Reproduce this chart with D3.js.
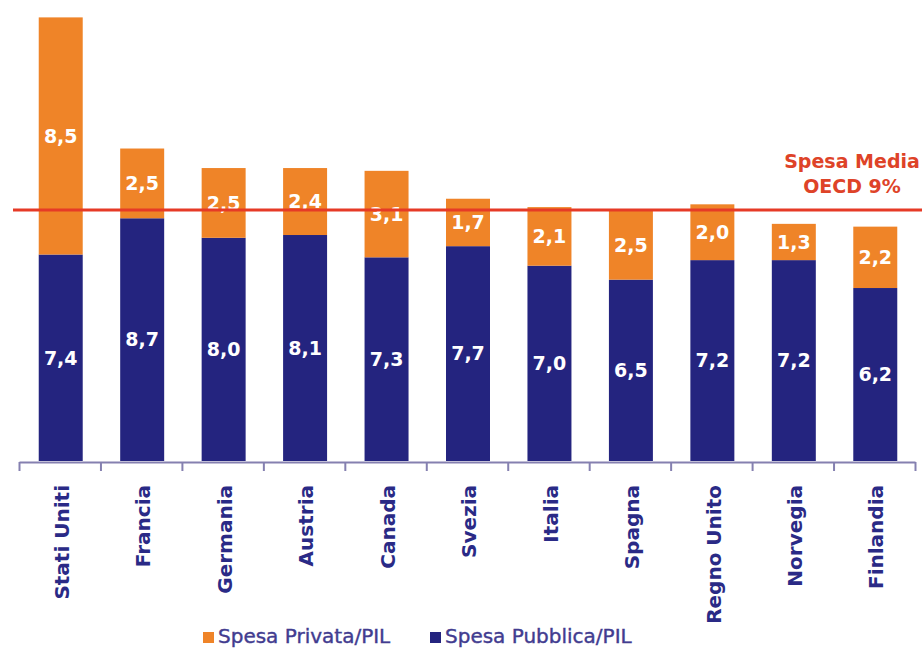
<!DOCTYPE html>
<html>
<head>
<meta charset="utf-8">
<script src="https://cdn.jsdelivr.net/npm/d3@7"></script>
<style>
  html, body { margin: 0; padding: 0; background: #ffffff; }
  svg { display: block; }
</style>
</head>
<body>
<svg id="chart" width="922" height="651"></svg>
<script>
// Health expenditure as % of GDP: public + private, by country
const countries = ["Stati Uniti", "Francia", "Germania", "Austria", "Canada", "Svezia",
                   "Italia", "Spagna", "Regno Unito", "Norvegia", "Finlandia"];
const spesaPubblica = [7.4, 8.7, 8.0, 8.1, 7.3, 7.7, 7.0, 6.5, 7.2, 7.2, 6.2];
const spesaPrivata  = [8.5, 2.5, 2.5, 2.4, 3.1, 1.7, 2.1, 2.5, 2.0, 1.3, 2.2];
const mediaOECD = 9;
const seriesNames = ["Spesa Pubblica/PIL", "Spesa Privata/PIL"];
const legendOrder = ["Spesa Privata/PIL", "Spesa Pubblica/PIL"];
const fmt = v => v.toFixed(1).replace(".", ",");

const colors = {
  "Spesa Pubblica/PIL": "#24247f",
  "Spesa Privata/PIL": "#ef8428"
};

const svg = d3.select("#chart");
const baseY = 461;
const left = 19, right = 915;

const x = d3.scaleBand().domain(countries).range([left, right]).padding(0);
const barW = x.bandwidth() * 0.54;
const y = d3.scaleLinear().domain([0, 16]).range([baseY, baseY - 16 * 27.9]);

const rows = countries.map((c, i) => ({
  country: c,
  "Spesa Pubblica/PIL": spesaPubblica[i],
  "Spesa Privata/PIL": spesaPrivata[i]
}));
const stacked = d3.stack().keys(seriesNames)(rows);

// stacked bars
const layers = svg.append("g").selectAll("g")
  .data(stacked).join("g")
  .attr("fill", d => colors[d.key]);

layers.selectAll("rect")
  .data(d => d.map(s => ({ s, key: d.key })))
  .join("rect")
  .attr("x", d => x(d.s.data.country) + (x.bandwidth() - barW) / 2 + 1)
  .attr("width", barW)
  .attr("y", d => y(d.s[1]))
  .attr("height", d => y(d.s[0]) - y(d.s[1]));

// value labels centred in each segment
layers.selectAll("text")
  .data(d => d.map(s => ({ s, key: d.key })))
  .join("text")
  .attr("x", d => x(d.s.data.country) + x.bandwidth() / 2 + 1)
  .attr("y", d => (y(d.s[0]) + y(d.s[1])) / 2)
  .attr("dy", "0.36em")
  .attr("text-anchor", "middle")
  .attr("fill", "#ffffff")
  .attr("font-family", "'DejaVu Sans', Verdana, sans-serif")
  .attr("font-weight", "bold")
  .attr("font-size", 19)
  .text(d => fmt(d.s.data[d.key]));

// x axis with ticks at category boundaries
const edges = d3.scaleLinear().domain([0, countries.length]).range([left, right]);
const axisG = svg.append("g")
  .attr("transform", `translate(0,${baseY + 1})`)
  .call(d3.axisBottom(edges).tickValues(d3.range(countries.length + 1))
    .tickSize(9).tickSizeOuter(0).tickFormat(""));
axisG.select(".domain").attr("stroke", "#8580b0").attr("stroke-width", 2);
axisG.selectAll(".tick line").attr("stroke", "#8580b0").attr("stroke-width", 2);

// rotated category labels
svg.append("g").selectAll("text")
  .data(countries).join("text")
  .attr("transform", d => `translate(${x(d) + x.bandwidth() / 2 + 2},485) rotate(-90)`)
  .attr("dy", "0.36em")
  .attr("text-anchor", "end")
  .attr("fill", "#2a2a86")
  .attr("font-family", "'DejaVu Sans', Verdana, sans-serif")
  .attr("font-weight", "bold")
  .attr("font-size", 20)
  .text(d => d);

// OECD average reference line
svg.append("line")
  .attr("x1", 13).attr("x2", 922)
  .attr("y1", y(mediaOECD)).attr("y2", y(mediaOECD))
  .attr("stroke", "#e63a26")
  .attr("stroke-width", 3);

const note = svg.append("text")
  .attr("text-anchor", "middle")
  .attr("fill", "#de4328")
  .attr("font-family", "'DejaVu Sans', Verdana, sans-serif")
  .attr("font-weight", "bold")
  .attr("font-size", 19);
note.append("tspan").attr("x", 852).attr("y", 168).text("Spesa Media");
note.append("tspan").attr("x", 852).attr("y", 193).text(`OECD ${mediaOECD}%`);

// legend
const legend = svg.append("g");
const legendX = [203, 430];
legendOrder.forEach((name, i) => {
  const g = legend.append("g").attr("transform", `translate(${legendX[i]},632)`);
  g.append("rect").attr("width", 11).attr("height", 11).attr("fill", colors[name]);
  g.append("text")
    .attr("x", 15).attr("y", 11)
    .attr("fill", "#423c90")
    .attr("font-family", "'DejaVu Sans', Verdana, sans-serif")
    .attr("font-size", 20)
    .attr("stroke", "#423c90")
    .attr("stroke-width", 0.4)
    .text(name);
});
</script>
</body>
</html>
